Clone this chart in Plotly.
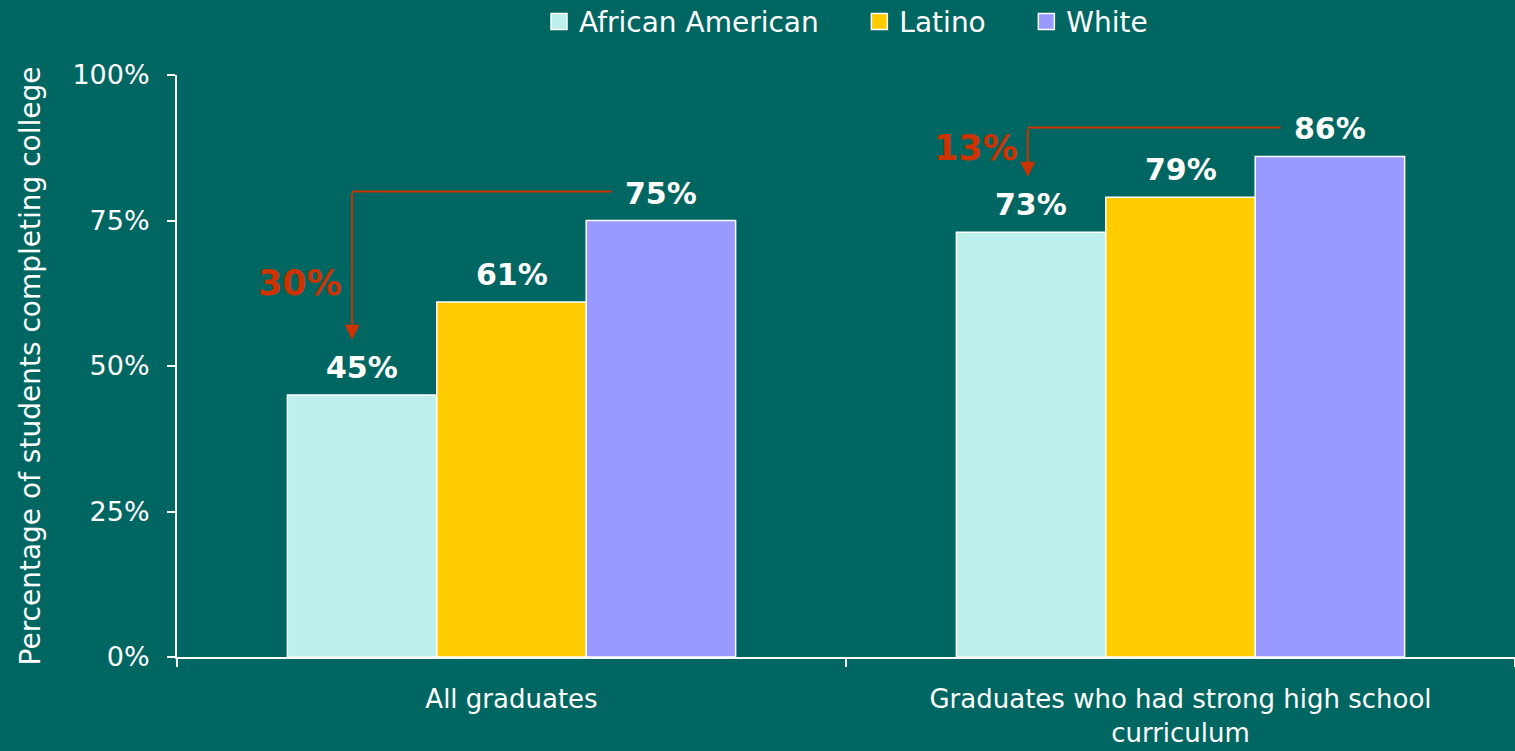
import plotly.graph_objects as go

categories = ["All graduates", "Graduates who had strong high school curriculum"]
tick_labels = ["All graduates", "Graduates who had strong high school<br>curriculum"]
series_names = ["African American", "Latino", "White"]
african_american = [45, 73]
latino = [61, 79]
white = [75, 86]
y_ticks = [0, 25, 50, 75, 100]
y_tick_labels = ["0%", "25%", "50%", "75%", "100%"]

colors = ["#BDEFED", "#FFCC00", "#9999FF"]
BG = "#006662"
RED = "#CC3300"
FONT = "DejaVu Sans"
BARGAP = 0.33

fig = go.Figure()
all_series = [african_american, latino, white]
for k, (name, vals, col) in enumerate(zip(series_names, all_series, colors)):
    fig.add_trace(go.Bar(
        name=name, x=categories, y=vals, showlegend=False,
        marker=dict(color=col, line=dict(color="white", width=1.5)),
    ))
    # legend entry with a larger square swatch
    pad = "&nbsp;" * 4 if k < len(series_names) - 1 else ""
    fig.add_trace(go.Scatter(
        name=name + pad, x=[None], y=[None], mode="markers",
        marker=dict(symbol="square", size=17, color=col,
                    line=dict(color="white", width=1.5)),
    ))

barw = (1 - BARGAP) / 3
# value labels above bars
for j, vals in enumerate(all_series):
    for i, v in enumerate(vals):
        fig.add_annotation(
            x=i + (j - 1) * barw, y=v, xref="x", yref="y",
            text=f"<b>{v}%</b>", showarrow=False, yanchor="bottom", yshift=8,
            font=dict(family=FONT, size=30, color="white"),
        )

# gap arrows
for i in range(len(categories)):
    top = white[i] + 5
    tip = african_american[i] + 9.5
    xv = i - 1 * barw - 0.015 + 0.01 * i
    xh = i + 0.15
    fig.add_shape(type="line", xref="x", yref="y", x0=xh, x1=xv, y0=top, y1=top,
                  line=dict(color=RED, width=2))
    fig.add_annotation(x=xv, y=tip, ax=xv, ay=top, xref="x", yref="y",
                       axref="x", ayref="y", text="", showarrow=True,
                       arrowhead=2, arrowsize=1.5, arrowwidth=2, arrowcolor=RED)
    gap = white[i] - african_american[i]
    fig.add_annotation(x=xv, y=tip + (0.38 + 0.2 * i) * (top - tip), xref="x", yref="y",
                       text=f"<b>{gap}%</b>", showarrow=False, xanchor="right",
                       xshift=-8, yanchor="middle",
                       font=dict(family=FONT, size=35, color=RED))

fig.update_layout(
    width=1515, height=751,
    paper_bgcolor=BG, plot_bgcolor=BG,
    margin=dict(l=177, r=0, t=75, b=94, autoexpand=False),
    barmode="group", bargap=BARGAP, bargroupgap=0,
    font=dict(family=FONT, color="white", size=25),
    legend=dict(orientation="h", x=0.5, xanchor="center",
                yref="container", y=0.971, yanchor="middle",
                font=dict(family=FONT, size=28, color="white"),
                itemwidth=30, bgcolor="rgba(0,0,0,0)"),
    showlegend=True,
)
fig.update_xaxes(
    tickvals=categories, ticktext=tick_labels, tickson="boundaries",
    ticks="outside", ticklen=8, tickwidth=1.5, tickcolor="white",
    showline=True, linecolor="white", linewidth=2, showgrid=False,
    ticklabelstandoff=18,
    tickfont=dict(family=FONT, size=26, color="white"),
)
fig.update_yaxes(
    range=[0, 100], tickvals=y_ticks, ticktext=y_tick_labels,
    ticks="outside", ticklen=8, tickwidth=1.5, tickcolor="white",
    showline=True, linecolor="white", linewidth=2, showgrid=False, zeroline=False,
    ticklabelstandoff=12,
    tickfont=dict(family=FONT, size=27, color="white"),
    title=dict(text="Percentage of students completing college", standoff=24,
               font=dict(family=FONT, size=28, color="white")),
)

fig.write_html(
    "out.html",
    config={"displayModeBar": False},
    post_script=f"document.body.style.margin='0';document.body.style.background='{BG}';",
)
